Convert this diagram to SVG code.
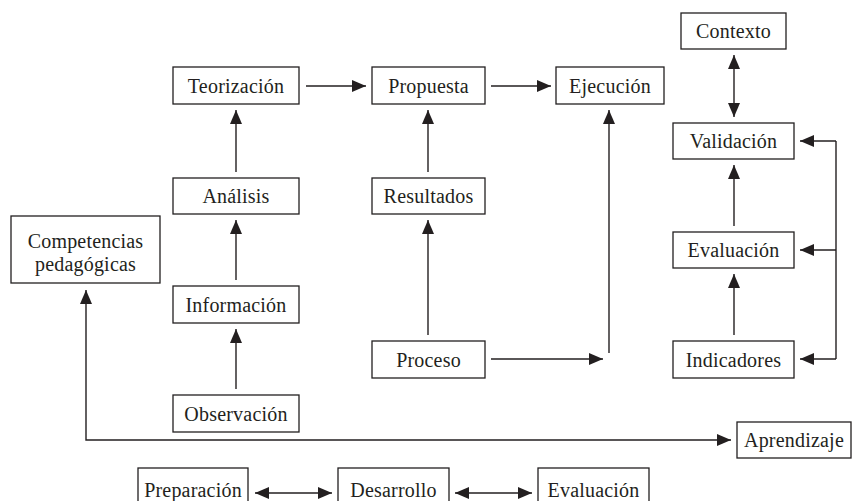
<svg xmlns="http://www.w3.org/2000/svg" width="857" height="501" viewBox="0 0 857 501">
<style>
  rect.b { fill: #fff; stroke: #231f20; stroke-width: 1.3; }
  text { font-family: "Liberation Serif", "Times New Roman", serif; font-size: 20px; letter-spacing: 0.2px; fill: #231f20; text-anchor: middle; }
  .c path { fill: none; stroke: #231f20; stroke-width: 1.4; }
  .a { marker-end: url(#ah); }
  .d { marker-start: url(#ah); marker-end: url(#ah); }
</style>
<defs>
  <marker id="ah" viewBox="0 0 14 12" refX="14" refY="6" markerWidth="14" markerHeight="12" markerUnits="userSpaceOnUse" orient="auto-start-reverse">
    <path d="M0,0 L14,6 L0,12 z" fill="#231f20"/>
  </marker>
</defs>
<rect width="857" height="501" fill="#fff"/>

<g id="contexto"><rect class="b" x="681" y="13" width="105" height="36"/><text x="733.5" y="38">Contexto</text></g>
<g id="teorizacion"><rect class="b" x="173" y="67" width="126" height="37"/><text x="236" y="93">Teorización</text></g>
<g id="propuesta"><rect class="b" x="372" y="67" width="113" height="37"/><text x="428.5" y="93">Propuesta</text></g>
<g id="ejecucion"><rect class="b" x="556" y="67" width="108" height="37"/><text x="610" y="93">Ejecución</text></g>
<g id="validacion"><rect class="b" x="673" y="123" width="121" height="36"/><text x="733.5" y="148">Validación</text></g>
<g id="analisis"><rect class="b" x="173" y="178" width="126" height="36"/><text x="236" y="203">Análisis</text></g>
<g id="resultados"><rect class="b" x="372" y="178" width="113" height="36"/><text x="428.5" y="203">Resultados</text></g>
<g id="competencias"><rect class="b" x="11" y="216" width="149" height="67"/><text x="85.5" y="248">Competencias</text><text x="85.5" y="271">pedagógicas</text></g>
<g id="evaluacion1"><rect class="b" x="673" y="232" width="121" height="36"/><text x="733.5" y="257">Evaluación</text></g>
<g id="informacion"><rect class="b" x="173" y="286" width="126" height="37"/><text x="236" y="312">Información</text></g>
<g id="proceso"><rect class="b" x="372" y="341" width="113" height="37"/><text x="428.5" y="367">Proceso</text></g>
<g id="indicadores"><rect class="b" x="673" y="341" width="121" height="37"/><text x="733.5" y="367">Indicadores</text></g>
<g id="observacion"><rect class="b" x="173" y="395" width="126" height="37"/><text x="236" y="421">Observación</text></g>
<g id="aprendizaje"><rect class="b" x="737" y="422" width="114" height="36"/><text x="794" y="447">Aprendizaje</text></g>
<g id="preparacion"><rect class="b" x="138" y="468" width="110" height="40"/><text x="193" y="497">Preparación</text></g>
<g id="desarrollo"><rect class="b" x="338" y="468" width="111" height="40"/><text x="393.5" y="497">Desarrollo</text></g>
<g id="evaluacion2"><rect class="b" x="538" y="468" width="111" height="40"/><text x="593.5" y="497">Evaluación</text></g>

<g id="connectors" class="c">
  <path class="a" d="M306,86 H366"/>
  <path class="a" d="M491,86 H551"/>
  <path class="a" d="M236,172 V110"/>
  <path class="a" d="M236,280 V220"/>
  <path class="a" d="M236,389 V329"/>
  <path class="a" d="M428,172 V110"/>
  <path class="a" d="M428,335 V220"/>
  <path class="a" d="M491,359 H603"/>
  <path class="a" d="M609,353 V110"/>
  <path class="d" d="M734,55 V117"/>
  <path class="a" d="M734,226 V165"/>
  <path class="a" d="M734,335 V274"/>
  <path d="M836,141 V359"/>
  <path class="a" d="M836,141 H800"/>
  <path class="a" d="M836,250 H800"/>
  <path class="a" d="M836,359 H800"/>
  <path class="d" d="M86,290 V440 H731"/>
  <path class="d" d="M255,493 H332"/>
  <path class="d" d="M455,493 H532"/>
</g>
</svg>
